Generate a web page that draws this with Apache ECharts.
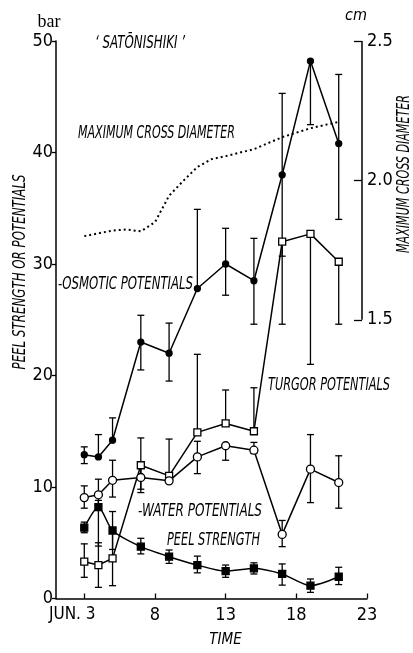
<!DOCTYPE html>
<html>
<head>
<meta charset="utf-8">
<script src="https://cdn.jsdelivr.net/npm/echarts@6/dist/echarts.min.js"></script>
<style>
html, body { margin: 0; padding: 0; background: #fff; }
#chart { width: 413px; height: 653px; }
</style>
</head>
<body>
<div id="chart"></div>
<script>
// sampling days (June)
const days = [3, 4, 5, 7, 9, 11, 13, 15, 17, 19, 21];

// -osmotic potentials (bar)
const osmotic     = [12.9, 12.7, 14.2, 23.0, 22.0, 27.8, 30.0, 28.5, 38.0, 48.2, 40.8];
const osmoticLow  = [12.1, 12.7, 14.2, 20.5, 19.5, 27.8, 27.2, 24.6, 30.7, 42.5, 34.0];
const osmoticHigh = [13.6, 14.7, 16.2, 25.4, 24.7, 34.9, 33.2, 32.3, 45.3, 48.2, 47.0];

// turgor potentials (bar)
const turgor     = [3.3, 3.0, 3.6, 11.95, 11.0, 14.9, 15.7, 15.0, 32.0, 32.7, 30.2];
const turgorLow  = [1.9, 1.0, 1.15, 9.5, 11.0, 14.9, 15.7, 15.0, 24.6, 21.0, 24.6];
const turgorHigh = [4.9, 5.0, 6.0, 14.4, 14.3, 21.9, 18.7, 18.9, 32.0, 32.7, 30.2];

// -water potentials (bar)
const water     = [9.05, 9.3, 10.6, 10.85, 10.55, 12.7, 13.7, 13.3, 5.75, 11.6, 10.4];
const waterLow  = [8.1, 8.4, 9.1, 9.8, 10.55, 11.2, 12.4, 13.0, 4.65, 8.6, 8.1];
const waterHigh = [10.1, 10.7, 12.4, 11.9, 10.55, 14.1, 13.7, 14.0, 7.0, 14.7, 12.8];

// peel strength
const peel     = [6.35, 8.2, 6.1, 4.65, 3.75, 3.0, 2.45, 2.7, 2.2, 1.15, 1.95];
const peelLow  = [5.9, 4.7, 4.4, 4.0, 3.15, 2.3, 1.9, 2.2, 1.2, 0.55, 1.25];
const peelHigh = [6.85, 8.8, 7.8, 5.4, 4.35, 3.8, 3.0, 3.2, 3.1, 1.75, 2.8];

// maximum cross diameter (cm, right axis)
const diamDays = [3, 4, 5, 6, 7, 8, 9, 10, 11, 12, 13, 15, 17, 19, 21];
const diameter = [1.80, 1.81, 1.82, 1.824, 1.817, 1.85, 1.945, 1.998, 2.048, 2.076, 2.087, 2.112, 2.155, 2.187, 2.21];

// axis ticks
const xTicks = [3, 8, 13, 18, 23];
const rightTicks = [1.5, 2.0, 2.5];

const FONT = "'Liberation Sans Narrow', 'DejaVu Sans Condensed', 'DejaVu Sans', sans-serif";
const ANNO_FONT = 'italic 18px ' + FONT;

const pairs = (xs, ys) => xs.map((x, i) => [x, ys[i]]);
const errData = (vals, lo, hi) => days.map((d, i) => [d, lo[i], hi[i], vals[i]]);

function errRender(params, api) {
    const x = api.value(0), lo = api.value(1), hi = api.value(2), v = api.value(3);
    const pLo = api.coord([x, lo]);
    const pHi = api.coord([x, hi]);
    const w = 3.5;
    const st = { stroke: '#000', lineWidth: 1.3 };
    const kids = [];
    if (hi === lo) return { type: 'group', children: kids };
    kids.push({ type: 'line', shape: { x1: pLo[0], y1: pLo[1], x2: pHi[0], y2: pHi[1] }, style: st });
    if (lo < v) kids.push({ type: 'line', shape: { x1: pLo[0] - w, y1: pLo[1], x2: pLo[0] + w, y2: pLo[1] }, style: st });
    if (hi > v) kids.push({ type: 'line', shape: { x1: pHi[0] - w, y1: pHi[1], x2: pHi[0] + w, y2: pHi[1] }, style: st });
    return { type: 'group', children: kids };
}

const errSeries = (data) => ({
    type: 'custom',
    renderItem: errRender,
    data: data,
    encode: { x: 0, y: [1, 2] },
    z: 2,
    silent: true
});

const lineSeries = (name, data, symbol, size, fill, smooth) => ({
    name: name,
    type: 'line',
    data: data,
    symbol: symbol,
    symbolSize: size,
    showAllSymbol: true,
    smooth: smooth || false,
    lineStyle: { color: '#000', width: 1.5 },
    itemStyle: { color: fill, borderColor: '#000', borderWidth: 1.3 },
    z: 3,
    silent: true
});

// condensed plotter-style lettering: squeeze text to the width it has in the figure
const measureCtx = document.createElement('canvas').getContext('2d');
function note(str, x, y, width, rotated) {
    measureCtx.font = ANNO_FONT;
    const w = measureCtx.measureText(str).width;
    return {
        type: 'text',
        x: x,
        y: y,
        rotation: rotated ? Math.PI / 2 : 0,
        scaleX: width / w,
        style: { text: str, font: ANNO_FONT, fill: '#000', align: rotated ? 'center' : 'left', verticalAlign: 'middle' }
    };
}

let chart = echarts.init(document.getElementById('chart'));
let option = {
    animation: false,
    backgroundColor: '#fff',
    grid: { left: 56, right: 46, top: 41, bottom: 50 },
    xAxis: {
        type: 'value',
        min: 1,
        max: 23,
        name: 'TIME',
        nameLocation: 'middle',
        nameGap: 42,
        nameTextStyle: { fontFamily: FONT, fontStyle: 'italic', fontSize: 15, color: '#000', verticalAlign: 'middle', padding: [0, 0, 0, 28] },
        axisLine: { show: true, onZero: false, lineStyle: { color: '#000', width: 1.5 } },
        axisTick: { show: true, inside: true, length: 5, customValues: xTicks, lineStyle: { color: '#000', width: 1.3 } },
        axisLabel: {
            customValues: xTicks,
            margin: 8,
            color: '#000',
            fontFamily: FONT,
            fontSize: 18,
            formatter: v => v === 3 ? '{j|JUN. 3}' : String(v),
            rich: { j: { fontFamily: FONT, fontSize: 17, color: '#000', padding: [0, 24, 0, 0] } }
        },
        splitLine: { show: false }
    },
    yAxis: [{
        type: 'value',
        min: 0,
        max: 50,
        interval: 10,
        name: 'bar',
        nameLocation: 'end',
        nameGap: 10,
        nameTextStyle: { fontFamily: 'Liberation Serif, DejaVu Serif, serif', fontSize: 18, color: '#000', padding: [0, 14, 0, 0] },
        axisLine: { show: true, lineStyle: { color: '#000', width: 1.5 } },
        axisTick: { show: true, length: 4, lineStyle: { color: '#000', width: 1.3 } },
        axisLabel: { margin: 3, color: '#000', fontFamily: FONT, fontSize: 18 },
        splitLine: { show: false }
    }, {
        type: 'value',
        min: 0.5,
        max: 2.5,
        interval: 0.5,
        position: 'right',
        offset: -5,
        name: 'cm',
        nameLocation: 'end',
        nameGap: 17,
        nameTextStyle: { fontFamily: FONT, fontStyle: 'italic', fontSize: 16, color: '#000', padding: [0, 0, 0, -12] },
        axisLine: { show: false },
        axisTick: { show: true, inside: true, length: 8, customValues: rightTicks, lineStyle: { color: '#000', width: 1.3 } },
        axisLabel: { customValues: rightTicks, margin: 5, color: '#000', fontFamily: FONT, fontSize: 18, formatter: v => v.toFixed(1) },
        splitLine: { show: false }
    }],
    series: [
        errSeries(errData(osmotic, osmoticLow, osmoticHigh)),
        errSeries(errData(turgor, turgorLow, turgorHigh)),
        errSeries(errData(water, waterLow, waterHigh)),
        errSeries(errData(peel, peelLow, peelHigh)),
        lineSeries('osmotic', pairs(days, osmotic), 'circle', 6, '#000'),
        lineSeries('turgor', pairs(days, turgor), 'rect', 7, '#fff'),
        lineSeries('water', pairs(days, water), 'circle', 8, '#fff'),
        lineSeries('peel', pairs(days, peel), 'rect', 7, '#000', 0.25),
        {
            name: 'diameter',
            type: 'line',
            yAxisIndex: 1,
            data: pairs(diamDays, diameter),
            symbol: 'none',
            lineStyle: { color: '#000', width: 2, type: [2, 3] },
            z: 1,
            silent: true,
            markLine: {
                silent: true,
                symbol: 'none',
                label: { show: false },
                lineStyle: { color: '#000', width: 1.5, type: 'solid' },
                data: [[{ coord: [22.65, 1.5] }, { coord: [22.65, 2.5] }]]
            }
        }
    ],
    graphic: [
        note('‘ SATŌNISHIKI ’', 95, 43, 90),
        note('MAXIMUM CROSS DIAMETER', 78, 133, 157),
        note('-OSMOTIC POTENTIALS', 58, 284, 135),
        note('TURGOR POTENTIALS', 268, 385, 122),
        note('-WATER POTENTIALS', 138, 511, 124),
        note('PEEL STRENGTH', 167, 540, 93),
        note('PEEL STRENGTH OR POTENTIALS', 20, 272, 195, true),
        note('MAXIMUM CROSS DIAMETER', 404, 174, 158, true)
    ]
};
chart.setOption(option);
</script>
</body>
</html>
